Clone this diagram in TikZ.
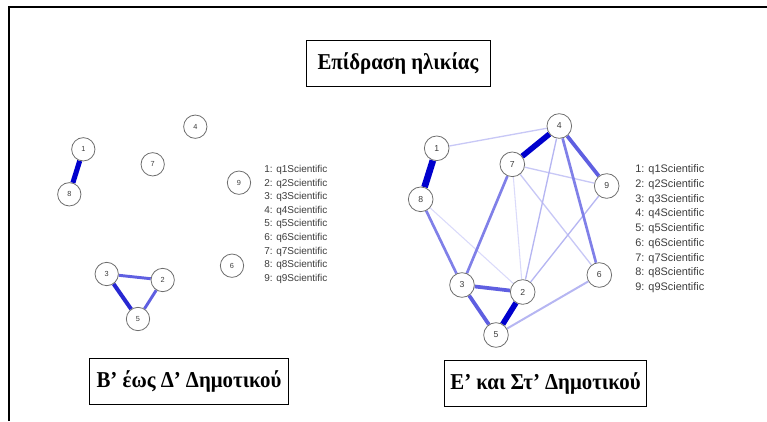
\documentclass[tikz,border=0pt]{standalone}
\usepackage{fontspec}
\setmainfont{Liberation Serif}
\newfontfamily\legfont{Liberation Sans}
\usetikzlibrary{backgrounds}
\definecolor{estrong}{RGB}{0,0,205}
\definecolor{estrongb}{RGB}{40,40,210}
\definecolor{emed}{RGB}{95,95,225}
\definecolor{emedl}{RGB}{128,128,232}
\definecolor{eweak}{RGB}{182,182,242}
\definecolor{elight}{RGB}{200,200,246}
\definecolor{evweak}{RGB}{218,218,250}
\definecolor{ncirc}{RGB}{110,110,110}
\definecolor{ntext}{RGB}{60,60,60}
\newcommand{\captxt}[1]{\scalebox{0.92}[1]{#1}}
\tikzset{
  lnode/.style={circle, draw=ncirc, line width=0.6pt, fill=white, minimum size=17.5pt, inner sep=0pt, font=\legfont\fontsize{5.5}{6}\selectfont, text=ntext},
  rnode/.style={circle, draw=ncirc, line width=0.6pt, fill=white, minimum size=18.5pt, inner sep=0pt, font=\legfont\fontsize{6.5}{7}\selectfont, text=ntext},
  lbox/.style={draw=black, line width=0.6pt, font=\bfseries\fontsize{17}{19}\selectfont, minimum height=34.5pt, inner sep=0pt},
  legl/.style={anchor=north west, align=left, font=\legfont\fontsize{7.5}{10.2}\selectfont, text=ntext, inner sep=0pt},
  legr/.style={anchor=north west, align=left, font=\legfont\fontsize{8.2}{11.05}\selectfont, text=ntext, inner sep=0pt},
  frame/.style={line width=1.5pt, black}
}
\begin{document}
\begin{tikzpicture}[x=0.75pt,y=-0.75pt]
\useasboundingbox (0,0) rectangle (767,421);
\draw[frame] (9,421) -- (9,7) -- (767,7);
% title and captions
\node[lbox, minimum width=138pt] (title) at (398,63) {\captxt{Επίδραση ηλικίας}};
\node[lbox, minimum width=149.25pt] (capL) at (189,381) {\captxt{Β’ έως Δ’ Δημοτικού}};
\node[lbox, minimum width=151.5pt] (capR) at (545.5,383) {\captxt{Ε’ και Στ’ Δημοτικού}};
% left network
\node[lnode] (L1) at (83.3,149.3) {1};
\node[lnode] (L8) at (69.3,194.3) {8};
\node[lnode] (L4) at (195.3,126.7) {4};
\node[lnode] (L7) at (152.7,164.3) {7};
\node[lnode] (L9) at (239,182.7) {9};
\node[lnode] (L6) at (232,265.7) {6};
\node[lnode] (L3) at (106.7,274) {3};
\node[lnode] (L2) at (162.7,280) {2};
\node[lnode] (L5) at (138,319) {5};
\node[legl] (legL) at (264,165) {1: q1Scientific\\2: q2Scientific\\3: q3Scientific\\4: q4Scientific\\5: q5Scientific\\6: q6Scientific\\7: q7Scientific\\8: q8Scientific\\9: q9Scientific};
% right network
\node[rnode] (R4) at (559.3,126) {4};
\node[rnode] (R1) at (436.7,148.3) {1};
\node[rnode] (R7) at (512.3,164.3) {7};
\node[rnode] (R9) at (606.7,186) {9};
\node[rnode] (R8) at (420.7,199.3) {8};
\node[rnode] (R6) at (599.3,275) {6};
\node[rnode] (R3) at (462,285) {3};
\node[rnode] (R2) at (522.7,292) {2};
\node[rnode] (R5) at (496,335) {5};
\node[legr] (legR) at (635,164.5) {1: q1Scientific\\2: q2Scientific\\3: q3Scientific\\4: q4Scientific\\5: q5Scientific\\6: q6Scientific\\7: q7Scientific\\8: q8Scientific\\9: q9Scientific};
\begin{scope}[on background layer]
  % left edges
  \draw[estrong, line width=3.8pt] (L1) -- (L8);
  \draw[estrongb, line width=3pt] (L3) -- (L5);
  \draw[emed, line width=2.2pt] (L3) -- (L2);
  \draw[emed, line width=2.2pt] (L2) -- (L5);
  % right edges
  \draw[evweak, line width=0.8pt] (R8) -- (R2);
  \draw[evweak, line width=0.8pt] (R7) -- (R2);
  \draw[elight, line width=1pt] (R1) -- (R4);
  \draw[elight, line width=1pt] (R7) -- (R9);
  \draw[elight, line width=1pt] (R7) -- (R6);
  \draw[eweak, line width=1pt] (R4) -- (R2);
  \draw[eweak, line width=1pt] (R9) -- (R2);
  \draw[eweak, line width=1.5pt] (R5) -- (R6);
  \draw[emedl, line width=2pt] (R8) -- (R3);
  \draw[emedl, line width=2pt] (R7) -- (R3);
  \draw[emedl, line width=2pt] (R4) -- (R6);
  \draw[emed, line width=2.8pt] (R4) -- (R9);
  \draw[emed, line width=2.8pt] (R3) -- (R5);
  \draw[emed, line width=2.8pt] (R3) -- (R2);
  \draw[estrong, line width=4.2pt] (R2) -- (R5);
  \draw[estrong, line width=4.2pt] (R4) -- (R7);
  \draw[estrong, line width=5pt] (R1) -- (R8);
\end{scope}
\end{tikzpicture}
\end{document}
